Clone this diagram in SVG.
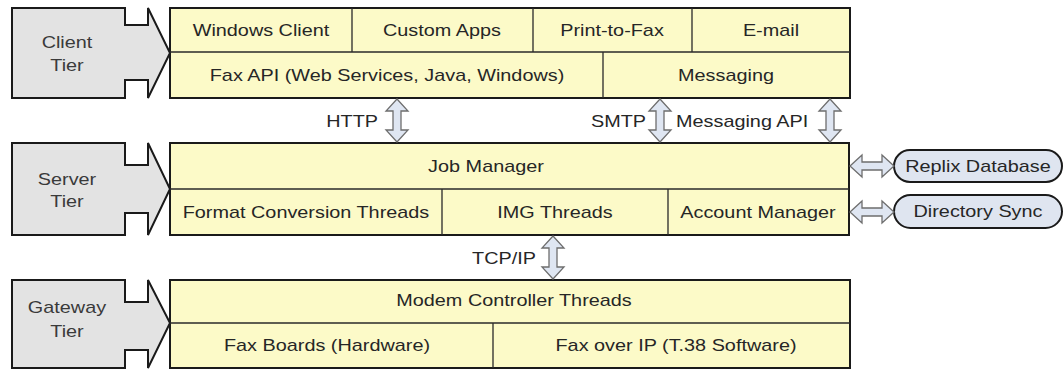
<svg xmlns="http://www.w3.org/2000/svg" width="1064" height="371" viewBox="0 0 1064 371">
<style>
.tier{fill:#e3e3e3;stroke:#1a1a1a;stroke-width:2;stroke-linejoin:miter}
.box{fill:#fcfac8;stroke:#1a1a1a;stroke-width:2}
.div{stroke:#2a2a2a;stroke-width:1.3;fill:none}
.pill{fill:#dfe5f0;stroke:#1a1a1a;stroke-width:2}
.arr{fill:#dfe6f2;stroke:#6e6e6e;stroke-width:1.3;stroke-linejoin:miter}
text{font-family:"Liberation Sans",Arial,sans-serif;font-size:16px;fill:#262626;text-anchor:middle}
.lt{fill:#3a3a3a}
.lbl{text-anchor:end}
.lbs{text-anchor:start}
</style>
<rect width="1064" height="371" fill="#ffffff"/>

<g id="client-tier">
<path class="tier" d="M12,8 H125 V25 H148 V8 L170,53 L148,98 V80 H125 V98 H12 Z"/>
<text class="lt" transform="matrix(1.24 0 0 1 67 48)">Client</text>
<text class="lt" transform="matrix(1.24 0 0 1 67 71)">Tier</text>
</g>
<g id="client-box">
<rect class="box" x="170" y="8" width="680" height="90"/>
<path class="div" d="M170,52 H850 M352,8 V52 M533,8 V52 M692,8 V52 M603,52 V98"/>
<text transform="matrix(1.24 0 0 1 261 36)">Windows Client</text>
<text transform="matrix(1.24 0 0 1 442 36)">Custom Apps</text>
<text transform="matrix(1.24 0 0 1 612 36)">Print-to-Fax</text>
<text transform="matrix(1.24 0 0 1 771 36)">E-mail</text>
<text transform="matrix(1.24 0 0 1 387 81)">Fax API (Web Services, Java, Windows)</text>
<text transform="matrix(1.24 0 0 1 726 81)">Messaging</text>
</g>

<g id="server-tier">
<path class="tier" d="M12,143 H125 V165 H148 V143 L170,189 L148,235 V213 H125 V235 H12 Z"/>
<text class="lt" transform="matrix(1.24 0 0 1 67 185)">Server</text>
<text class="lt" transform="matrix(1.24 0 0 1 67 207)">Tier</text>
</g>
<g id="server-box">
<rect class="box" x="170" y="143" width="679" height="92"/>
<path class="div" d="M170,189 H849 M442,189 V235 M668,189 V235"/>
<text transform="matrix(1.24 0 0 1 486 172)">Job Manager</text>
<text transform="matrix(1.24 0 0 1 306 218)">Format Conversion Threads</text>
<text transform="matrix(1.24 0 0 1 555 218)">IMG Threads</text>
<text transform="matrix(1.24 0 0 1 758 218)">Account Manager</text>
</g>

<g id="gateway-tier">
<path class="tier" d="M12,280 H125 V302 H148 V280 L170,323 L148,368 V350 H125 V368 H12 Z"/>
<text class="lt" transform="matrix(1.24 0 0 1 67 313)">Gateway</text>
<text class="lt" transform="matrix(1.24 0 0 1 67 337)">Tier</text>
</g>
<g id="gateway-box">
<rect class="box" x="170" y="280" width="680" height="88"/>
<path class="div" d="M170,323 H850 M493,323 V368"/>
<text transform="matrix(1.24 0 0 1 514 306)">Modem Controller Threads</text>
<text transform="matrix(1.24 0 0 1 327 351)">Fax Boards (Hardware)</text>
<text transform="matrix(1.24 0 0 1 676 351)">Fax over IP (T.38 Software)</text>
</g>

<g id="replix-db">
<rect class="pill" x="894" y="150" width="168" height="32" rx="16"/>
<text transform="matrix(1.24 0 0 1 978 172)">Replix Database</text>
</g>
<g id="directory-sync">
<rect class="pill" x="894" y="195" width="168" height="33" rx="16.5"/>
<text transform="matrix(1.24 0 0 1 978 217)">Directory Sync</text>
</g>

<g id="connectors">
<path class="arr" d="M397,99 L408,111 L401,111 L401,130 L408,130 L397,142 L386,130 L393,130 L393,111 L386,111 Z"/>
<path class="arr" d="M660,99 L671,111 L664,111 L664,130 L671,130 L660,142 L649,130 L656,130 L656,111 L649,111 Z"/>
<path class="arr" d="M830,99 L841,111 L834,111 L834,130 L841,130 L830,142 L819,130 L826,130 L826,111 L819,111 Z"/>
<path class="arr" d="M553,236 L564,248 L557,248 L557,267 L564,267 L553,279 L542,267 L549,267 L549,248 L542,248 Z"/>
<path class="arr" d="M850,166 L862,155 L862,162 L882,162 L882,155 L894,166 L882,177 L882,170 L862,170 L862,177 Z"/>
<path class="arr" d="M850,212 L862,201 L862,208 L882,208 L882,201 L894,212 L882,223 L882,216 L862,216 L862,223 Z"/>
<text class="lbl" transform="matrix(1.24 0 0 1 378 127)">HTTP</text>
<text class="lbl" transform="matrix(1.24 0 0 1 646 127)">SMTP</text>
<text class="lbs" transform="matrix(1.24 0 0 1 676 127)">Messaging API</text>
<text class="lbl" transform="matrix(1.24 0 0 1 536 264)">TCP/IP</text>
</g>
</svg>
